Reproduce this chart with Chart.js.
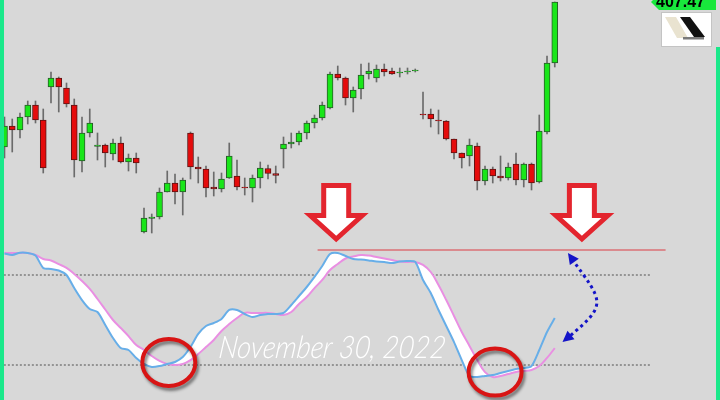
<!DOCTYPE html>
<html>
<head>
<meta charset="utf-8">
<script src="https://cdn.jsdelivr.net/npm/chart.js@4.4.1/dist/chart.umd.min.js"></script>
<style>
  html, body { margin: 0; padding: 0; background: #d8d8d8; }
  #wrap { position: relative; width: 720px; height: 400px; overflow: hidden; }
  canvas { display: block; }
</style>
</head>
<body>
<div id="wrap"><canvas id="myChart" width="720" height="400"></canvas></div>
<script>
// candles
const opens = [392.97,395.07,394.67,395.97,397.17,395.67,398.97,399.87,398.87,397.17,
  391.57,394.37,393.02,393.17,392.27,393.37,391.47,391.87,384.47,385.82,
  385.97,388.47,389.37,388.47,394.37,390.97,390.77,388.97,388.77,389.87,
  390.07,388.97,388.87,389.87,390.82,390.32,392.77,393.27,393.47,394.37,
  395.37,395.87,396.87,400.27,399.87,397.87,398.77,400.27,399.87,400.77,
  400.57,400.37,400.47,400.57,396.27,396.27,395.67,395.57,393.77,392.37,
  392.07,393.07,389.57,390.77,390.07,389.87,391.27,389.67,391.27,389.47,
  394.47,401.37];
const highs = [395.97,395.77,396.37,397.57,397.57,396.77,400.47,399.97,399.37,397.77,
  395.97,396.77,394.37,393.27,393.77,393.97,392.27,392.37,386.87,386.27,
  388.87,390.57,390.27,389.87,394.47,391.97,391.07,390.47,390.37,393.37,
  391.67,389.87,390.17,391.47,391.17,391.07,393.97,394.37,394.57,395.57,
  396.17,397.47,400.47,401.07,399.97,398.97,401.27,401.37,401.17,401.27,
  400.87,400.87,400.87,400.77,398.47,396.77,396.67,395.62,393.77,392.37,
  393.77,393.37,391.07,390.97,392.07,391.37,392.37,391.37,391.37,396.17,
  402.07,407.47];
const lows = [391.87,392.47,393.87,395.27,395.37,390.37,397.37,396.47,396.97,389.97,
  390.47,393.97,391.67,390.97,391.67,391.37,390.57,390.37,384.37,384.37,
  385.77,388.47,387.27,386.17,389.77,389.37,387.97,388.07,388.47,389.82,
  388.67,388.17,387.47,388.87,389.77,389.37,390.87,392.87,393.17,393.77,
  394.87,395.67,396.77,399.67,397.17,396.47,397.77,399.77,399.47,400.07,
  400.22,399.97,400.27,400.47,395.77,394.97,394.27,393.67,391.77,390.87,
  391.07,388.67,389.17,389.37,389.57,389.67,389.17,388.97,388.67,389.37,
  394.27,400.97];
const closes = [395.07,394.67,395.97,397.17,395.67,390.87,399.87,398.97,397.27,391.67,
  394.37,395.37,393.17,392.37,393.37,391.47,391.87,391.37,385.87,385.97,
  388.47,389.37,388.47,389.67,390.97,390.77,388.87,388.77,389.77,392.07,
  388.97,388.87,389.87,390.87,390.32,390.12,393.27,393.47,394.37,395.37,
  395.87,397.17,400.27,399.87,397.87,398.67,400.17,400.57,400.77,400.47,
  400.27,400.47,400.57,400.67,396.17,395.77,395.57,393.77,392.37,391.87,
  393.17,389.57,390.77,390.07,389.87,390.97,389.67,391.27,389.37,394.57,
  401.37,407.47];

// oscillator lines
const stochK = [94.3,93.3,94.9,94.7,93.0,84.7,84.0,83.0,80.0,71.3,
  63.3,57.3,55.3,46.7,38.0,31.3,30.0,24.7,20.7,18.7,
  19.3,20.7,22.0,25.3,32.0,40.7,46.0,48.0,50.7,56.7,
  56.7,54.0,52.0,53.3,54.0,54.0,54.7,60.0,66.0,72.0,
  78.7,86.0,94.0,94.7,92.7,90.7,90.3,89.7,89.0,88.7,
  88.0,89.0,89.3,88.7,76.7,68.0,56.7,46.0,35.3,23.3,
  12.7,12.0,12.7,13.3,14.7,16.0,17.3,18.0,19.3,30.0,
  42.0,51.3];
const stochD = [94.7,94.7,94.7,94.7,93.3,90.7,89.7,87.3,84.7,80.7,
  76.0,70.7,64.0,57.0,50.0,44.7,39.3,33.3,30.0,26.0,
  22.7,20.7,20.0,20.7,23.3,27.3,32.0,36.7,42.7,47.3,
  51.3,54.7,54.7,54.7,54.7,54.0,53.3,55.3,60.7,65.3,
  71.3,76.7,83.3,87.3,91.0,92.3,93.3,93.0,92.0,91.0,
  90.0,89.0,88.7,88.7,86.7,82.0,73.3,63.3,52.7,42.0,
  32.7,23.3,15.3,12.0,12.7,14.0,15.3,16.0,16.7,19.3,
  24.7,31.3];
const fillUntil = 68; // white band stops before the last bars

const levels = [80, 20];
const levelEnd = 83.4;
const resistance = 96.7;
const resistanceFrom = 40.4, resistanceTo = 85.3;
const dateText = 'November 30, 2022';

// where the notes sit (candle index, oscillator value)
const arrowsAt = [42.8, 74.5];
const circlesAt = [[21.2, 21.7], [63.3, 15.3]];

const idx = closes.map((c, i) => i);
const up = idx.map(i => closes[i] >= opens[i]);
const bandEdge = idx.map(i => i <= fillUntil ? stochK[i] : stochD[i]);

const overlay = {
  id: 'overlay',
  afterDraw(chart) {
    const ctx = chart.ctx;
    const xs = chart.scales.x, ps = chart.scales.price, os = chart.scales.osc;
    const px = v => xs.getPixelForValue(v);
    const oy = v => os.getPixelForValue(v);
    ctx.save();

    // big red arrows
    arrowsAt.forEach(a => {
      const cx = px(a), tip = oy(104), head = tip - 23.5, top = tip - 53.5;
      ctx.beginPath();
      ctx.moveTo(cx - 12.5, top);
      ctx.lineTo(cx + 12.5, top);
      ctx.lineTo(cx + 12.5, head);
      ctx.lineTo(cx + 26, head);
      ctx.lineTo(cx, tip);
      ctx.lineTo(cx - 26, head);
      ctx.lineTo(cx - 12.5, head);
      ctx.closePath();
      ctx.fillStyle = '#ffffff';
      ctx.fill();
      ctx.lineWidth = 5;
      ctx.lineJoin = 'miter';
      ctx.strokeStyle = '#e3252e';
      ctx.stroke();
    });

    // circles
    circlesAt.forEach(c => {
      ctx.save();
      ctx.shadowColor = 'rgba(0,0,0,0.45)';
      ctx.shadowOffsetX = 2;
      ctx.shadowOffsetY = 3;
      ctx.shadowBlur = 3;
      ctx.beginPath();
      ctx.ellipse(px(c[0]), oy(c[1]), 26.5, 23.5, 0, 0, Math.PI * 2);
      ctx.lineWidth = 4;
      ctx.strokeStyle = '#d81414';
      ctx.stroke();
      ctx.restore();
    });

    // date
    ctx.save();
    ctx.font = 'italic 300 31px Lato';
    const w = ctx.measureText(dateText).width;
    ctx.translate(px(27.5), oy(24.7));
    ctx.transform(227 / w, 0, -0.12, 1, 0, 0);
    ctx.fillStyle = '#ffffff';
    ctx.textBaseline = 'alphabetic';
    ctx.fillText(dateText, 0, 0);
    ctx.restore();

    // dotted blue curved arrow
    const p0 = {x: px(72.7), y: oy(94.7)};
    const p3 = {x: px(72.0), y: oy(35.3)};
    const p1 = {x: p0.x + 35, y: p0.y + 49};
    const p2 = {x: p3.x + 46, y: p3.y - 38};
    ctx.save();
    ctx.strokeStyle = '#1414c8';
    ctx.lineWidth = 3;
    ctx.setLineDash([3, 3.5]);
    ctx.beginPath();
    ctx.moveTo(p0.x + 4, p0.y + 6);
    ctx.bezierCurveTo(p1.x, p1.y, p2.x, p2.y, p3.x + 6, p3.y - 5);
    ctx.stroke();
    ctx.restore();
    const head = (tip, from) => {
      const dx = tip.x - from.x, dy = tip.y - from.y, l = Math.hypot(dx, dy);
      const ux = dx / l, uy = dy / l;
      const bx = tip.x - ux * 11, by = tip.y - uy * 11;
      ctx.beginPath();
      ctx.moveTo(tip.x, tip.y);
      ctx.lineTo(bx - uy * 5.5, by + ux * 5.5);
      ctx.lineTo(bx + uy * 5.5, by - ux * 5.5);
      ctx.closePath();
      ctx.fillStyle = '#1414c8';
      ctx.fill();
    };
    head(p0, p1);
    head(p3, p2);

    // last price tag
    const ly = ps.getPixelForValue(closes[closes.length - 1]);
    ctx.fillStyle = '#18e83c';
    ctx.beginPath();
    ctx.moveTo(651, ly);
    ctx.lineTo(659, ly - 8);
    ctx.lineTo(716, ly - 8);
    ctx.lineTo(716, ly + 8);
    ctx.lineTo(659, ly + 8);
    ctx.closePath();
    ctx.fill();
    ctx.fillStyle = '#000000';
    ctx.font = 'bold 16px "Liberation Sans"';
    ctx.textBaseline = 'middle';
    ctx.fillText(closes[closes.length - 1].toFixed(2), 656, ly + 1);

    // logo
    ctx.fillStyle = '#ffffff';
    ctx.fillRect(661, 12, 51, 35);
    ctx.strokeStyle = '#c4c4c4';
    ctx.lineWidth = 1;
    ctx.strokeRect(661.5, 12.5, 50, 34);
    ctx.fillStyle = '#e9e3d0';
    ctx.beginPath();
    ctx.moveTo(665, 17); ctx.lineTo(676, 17); ctx.lineTo(688, 38); ctx.lineTo(677, 38);
    ctx.closePath(); ctx.fill();
    ctx.fillStyle = '#7a7a7a';
    ctx.fillRect(683, 37, 21, 2.5);
    ctx.fillStyle = '#111111';
    ctx.beginPath();
    ctx.moveTo(680, 17); ctx.lineTo(690, 17); ctx.lineTo(705, 37); ctx.lineTo(694, 37);
    ctx.closePath(); ctx.fill();

    // side strips
    ctx.fillStyle = '#1ae88a';
    ctx.fillRect(0, 0, 4, 400);
    ctx.fillRect(716, 47, 4, 353);
    ctx.restore();
  }
};

const config = {
  type: 'bar',
  data: {
    datasets: [
      {
        label: 'body', type: 'bar', yAxisID: 'price',
        data: idx.map(i => ({x: i, y: [opens[i], closes[i]]})),
        backgroundColor: up.map(u => u ? '#19e619' : '#e50b0b'),
        borderColor: up.map(u => u ? '#2a5a2a' : '#5c1414'),
        borderWidth: 1, borderSkipped: false, barThickness: 6, grouped: false
      },
      {
        label: 'wick', type: 'bar', yAxisID: 'price',
        data: idx.map(i => ({x: i, y: [lows[i], highs[i]]})),
        backgroundColor: '#6b6b6b', borderWidth: 0, barThickness: 1, grouped: false
      },
      {
        label: '%K', type: 'line', yAxisID: 'osc',
        data: idx.map(i => ({x: i, y: stochK[i]})),
        borderColor: '#67aee8', borderWidth: 2, pointRadius: 0, tension: 0.25, fill: false
      },
      {
        label: '%D', type: 'line', yAxisID: 'osc',
        data: idx.map(i => ({x: i, y: stochD[i]})),
        borderColor: '#e98fe2', borderWidth: 2, pointRadius: 0, tension: 0.4,
        fill: {target: 4, above: '#ffffff', below: '#ffffff'}
      },
      {
        label: 'band', type: 'line', yAxisID: 'osc',
        data: idx.map(i => ({x: i, y: bandEdge[i]})),
        borderWidth: 0, borderColor: 'rgba(0,0,0,0)', pointRadius: 0, tension: 0.25, fill: false
      },
      ...levels.map(v => ({
        type: 'line', yAxisID: 'osc',
        data: [{x: -0.6, y: v}, {x: levelEnd, y: v}],
        borderColor: '#505050', borderWidth: 1, borderDash: [2, 2], pointRadius: 0, fill: false
      })),
      {
        type: 'line', yAxisID: 'osc',
        data: [{x: resistanceFrom, y: resistance}, {x: resistanceTo, y: resistance}],
        borderColor: '#da8a8e', borderWidth: 2, pointRadius: 0, fill: false
      }
    ]
  },
  options: {
    responsive: false,
    animation: false,
    devicePixelRatio: 1,
    events: [],
    layout: { padding: 0 },
    scales: {
      x: { type: 'linear', min: -0.58, max: 92.32, offset: false, display: false },
      price: { axis: 'y', type: 'linear', min: 367.67, max: 407.67, display: false },
      osc: { axis: 'y', type: 'linear', min: -3.33, max: 263.33, display: false }
    },
    plugins: {
      legend: { display: false },
      tooltip: { enabled: false }
    }
  },
  plugins: [overlay]
};

var myChart = new Chart(document.getElementById('myChart'), config);
</script>
</body>
</html>
